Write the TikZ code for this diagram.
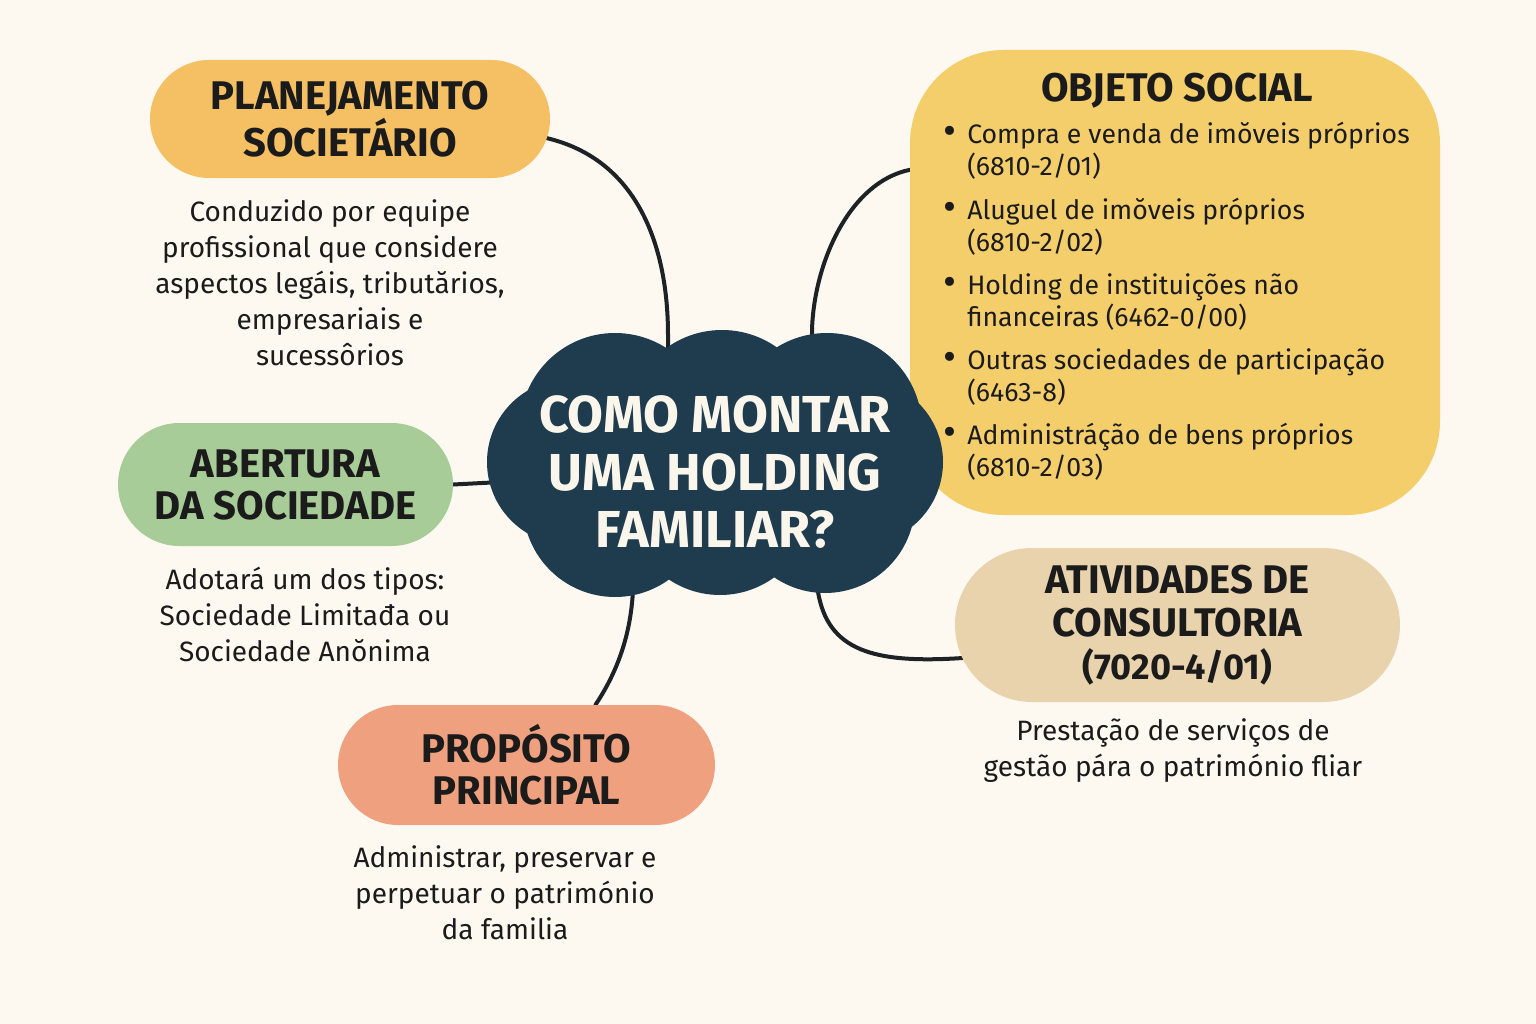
\documentclass[tikz,border=0pt]{standalone}
\usepackage{fontspec}
\setmainfont{Fira Sans}
\usetikzlibrary{shapes.misc,calc}
\pgfdeclarelayer{paper}
\pgfdeclarelayer{links}
\pgfsetlayers{paper,links,main}
\definecolor{bgc}{HTML}{FDF9F1}
\definecolor{planc}{HTML}{F4C063}
\definecolor{abertc}{HTML}{A8CC98}
\definecolor{propc}{HTML}{EFA07F}
\definecolor{objc}{HTML}{F5CE6C}
\definecolor{ativc}{HTML}{E8D3AC}
\definecolor{cloudc}{HTML}{1F3C4E}
\definecolor{ink}{HTML}{1B1B1B}
\definecolor{linec}{HTML}{1C2226}
\definecolor{titlec}{HTML}{FBF6EC}
\begin{document}
\begin{tikzpicture}[x=0.75pt,y=-0.75pt,
  pill/.style={rounded rectangle, inner sep=0pt, align=center, text=ink,
    font=\fontsize{30}{31.5}\selectfont\bfseries},
  desc/.style={align=center, text=ink, inner sep=0pt,
    font=\fontsize{21}{27}\selectfont},
  itemtext/.style={align=left, text=ink, inner sep=0pt, anchor=west,
    font=\fontsize{20}{24}\selectfont},
  bulletmark/.style={text=ink, inner sep=0pt, font=\fontsize{30}{24}\selectfont},
  conn/.style={draw=linec, line width=3pt, line cap=round},
  cloudpart/.style={fill=cloudc}
]
\useasboundingbox (0,0) rectangle (1536,1024);
\begin{pgfonlayer}{paper}
\fill[bgc] (0,0) rectangle (1536,1024);
\end{pgfonlayer}

% boxes
\node[pill, fill=planc, minimum width=300pt, minimum height=88.5pt] (plan) at (350,119) {PLANEJAMENTO\\SOCIETÁRIO};
\node[pill, fill=abertc, minimum width=251.25pt, minimum height=92.25pt] (abert) at (285.5,484.5) {ABERTURA\\DA SOCIEDADE};
\node[pill, fill=propc, minimum width=282.75pt, minimum height=90pt] (prop) at (526.5,765) {PROPÓSITO\\PRINCIPAL};
\node[pill, fill=ativc, minimum width=333.75pt, minimum height=115.5pt,
      font=\fontsize{30}{32.5}\selectfont\bfseries] (ativ) at (1177.5,625)
      {ATIVIDADES DE\\CONSULTORIA\\{\fontsize{27}{32.5}\selectfont(7020-4/01)}};
\node[rectangle, rounded corners=70pt, fill=objc, inner sep=0pt, minimum width=397.5pt, minimum height=348.75pt] (obj) at (1175,282.5) {};

% cloud
\fill[cloudpart] (715,462) ellipse [x radius=190, y radius=110];
\fill[cloudpart] (615,428) circle [radius=95];
\fill[cloudpart] (722,425) circle [radius=95];
\fill[cloudpart] (827,428) circle [radius=95];
\fill[cloudpart] (570,462) circle [radius=83];
\fill[cloudpart] (860,462) circle [radius=83];
\fill[cloudpart] (615,505) circle [radius=92];
\fill[cloudpart] (720,503) circle [radius=92];
\fill[cloudpart] (825,503) circle [radius=90];
\node[align=center, text=titlec, inner sep=0pt, font=\fontsize{39}{43}\selectfont\bfseries] (title) at (715,472) {COMO MONTAR\\UMA HOLDING\\FAMILIAR?};

% connector ends hidden under the cloud
\coordinate (cPlan) at (668,390);
\coordinate (cObj) at (812,390);
\coordinate (cAb) at (540,480);
\coordinate (cProp) at (636,550);
\coordinate (cAt) at (816,550);

\begin{pgfonlayer}{links}
\draw[conn] ($(plan.east)+(-4,19)$) .. controls (640,160) and (668,250) .. (668,335) -- (cPlan);
\draw[conn] ($(obj.north west)!0.258!(obj.south west)$) .. controls (850,182) and (814,262) .. (812,330) -- (cObj);
\draw[conn] (abert.east) -- (cAb);
\draw[conn] ($(prop.north)+(69,0)$) .. controls (620,668) and (631,630) .. (633,590) -- (cProp);
\draw[conn] ($(ativ.west)+(8,33)$) .. controls (872,664) and (828,650) .. (818,592) -- (cAt);
\end{pgfonlayer}

% objeto social content
\node[text=ink, inner sep=0pt, font=\fontsize{30}{31.5}\selectfont\bfseries] (objtitle) at (1177,91) {OBJETO SOCIAL};
\node[bulletmark] (b1) at (950,135) {•};
\node[bulletmark] (b2) at (950,211) {•};
\node[bulletmark] (b3) at (950,286) {•};
\node[bulletmark] (b4) at (950,361) {•};
\node[bulletmark] (b5) at (950,436) {•};
\node[itemtext] (i1) at (967,151) {Compra e venda de imŏveis próprios\\(6810-2/01)};
\node[itemtext] (i2) at (967,227) {Aluguel de imŏveis próprios\\(6810-2/02)};
\node[itemtext] (i3) at (967,302) {Holding de instituições não\\financeiras (6462-0/00)};
\node[itemtext] (i4) at (967,377) {Outras sociedades de participação\\(6463-8)};
\node[itemtext] (i5) at (967,452) {Administráção de bens próprios\\(6810-2/03)};

% descriptions
\node[desc] (dplan) at (330,283) {Conduzido por equipe\\profissional que considere\\aspectos legáis, tributărios,\\empresariais e\\sucessôrios};
\node[desc] (dab) at (305,614) {Adotará um dos tipos:\\Sociedade Limitađa ou\\Sociedade Anŏnima};
\node[desc] (dprop) at (505,893) {Administrar, preservar e\\perpetuar o património\\da familia};
\node[desc] (dat) at (1173,751) {Prestação de serviços de\\gestão pára o património fliar};
\end{tikzpicture}
\end{document}
